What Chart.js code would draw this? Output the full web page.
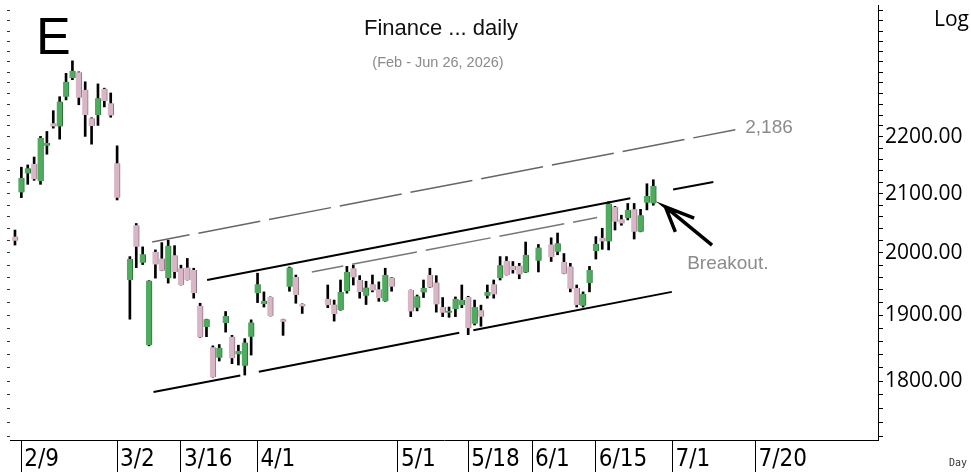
<!DOCTYPE html>
<html>
<head>
<meta charset="utf-8">
<script src="https://cdn.jsdelivr.net/npm/chart.js@4.4.1/dist/chart.umd.min.js"></script>
<style>
  html, body { margin: 0; padding: 0; background: #fff; }
  #wrap { width: 971px; height: 472px; }
</style>
</head>
<body>
<div id="wrap"><canvas id="chart" width="971" height="472"></canvas></div>
<script>
// trading days shown (gaps = days without a bar)
const dates = ['2/6','2/9','2/10','2/11','2/12','2/13','2/16','2/17','2/18','2/19','2/20','2/23','2/24','2/25','2/26','2/27','3/2',
  '3/4','3/5','3/6','3/9','3/10','3/11','3/12','3/13','3/16','3/17','3/18','3/19','3/20','3/23','3/24','3/25','3/26','3/27','3/30','3/31','4/1','4/2','4/3',
  '4/7','4/8','4/9','4/10',
  '4/16','4/17','4/20','4/21','4/22','4/23','4/24','4/27','4/28','4/29','4/30',
  '5/5','5/6','5/7','5/8','5/11','5/12','5/13','5/14','5/15','5/18','5/19','5/20','5/21','5/22','5/25','5/26','5/27','5/28','5/29',
  '6/2',
  '6/4','6/5','6/8','6/9','6/10','6/11','6/12','6/15','6/16','6/17','6/18','6/19','6/22','6/23','6/24','6/25','6/26'];

const opens = [2027,2102,2135,2152,2122,2184,2225,2219,2274,2309,2320,2287,2234,2240,2289,2262,2153,
  1956,2046,1984,1854,2002,1991,1959,1996,1975,1976,1972,1915,1882,1851,1835,1888,1867,1840,1823,1867,1935,1918,1929,
  1894,1945,1961,1918,
  1926,1917,1908,1938,1975,1956,1931,1949,1941,1922,1960,
  1940,1912,1936,1964,1952,1913,1904,1910,1916,1929,1887,1908,1931,1949,1959,1987,1979,1979,1968,
  1987,
  2014,2002,1985,1978,1943,1915,1951,2003,2025,2019,2077,2056,2058,2073,2035,2084,2083];

const highs = [2038,2146,2150,2164,2201,2210,2248,2274,2318,2342,2321,2302,2235,2298,2290,2281,2184,
  1994,2049,2010,1955,2005,2017,2021,2012,1980,1991,1975,1919,1894,1853,1855,1906,1869,1854,1864,1893,1967,1937,1929,
  1894,1977,1964,1918,
  1948,1924,1956,1978,1980,1963,1954,1964,1953,1975,1960,
  1940,1932,1956,1975,1963,1928,1913,1929,1948,1930,1924,1916,1948,1956,1994,1994,1986,1983,2018,
  2014,
  2025,2033,1999,1983,1948,1937,1978,2027,2041,2086,2078,2063,2083,2083,2073,2117,2124];

const lows = [2013,2093,2116,2123,2116,2169,2216,2196,2268,2306,2259,2201,2187,2221,2255,2236,2089,
  1894,1976,1981,1853,1959,1971,1951,1959,1948,1956,1927,1866,1867,1806,1830,1874,1826,1824,1809,1839,1920,1913,1899,
  1869,1938,1919,1903,
  1912,1891,1908,1935,1948,1927,1917,1937,1922,1922,1938,
  1898,1907,1928,1944,1905,1898,1897,1898,1912,1870,1885,1883,1927,1927,1956,1964,1967,1958,1968,
  1969,
  1986,1997,1966,1937,1913,1913,1937,1990,2006,2005,2038,2046,2055,2023,2035,2072,2080];

const closes = [2020,2127,2144,2125,2198,2189,2219,2265,2302,2323,2272,2240,2220,2271,2266,2239,2093,
  1990,2010,1998,1955,1981,1971,2012,1969,1948,1956,1935,1866,1894,1806,1850,1899,1834,1845,1858,1889,1949,1923,1899,
  1890,1976,1932,1914,
  1916,1902,1937,1969,1960,1937,1944,1939,1927,1964,1945,
  1906,1930,1943,1944,1917,1904,1907,1926,1924,1880,1913,1898,1937,1933,1980,1964,1972,1965,1997,
  2009,
  1993,2016,1966,1942,1916,1934,1972,2015,2019,2083,2052,2049,2072,2035,2063,2096,2113];

const tickLabels = ['2/9','3/2','3/16','4/1','5/1','5/18','6/1','6/15','7/1','7/20'];
const priceLabels = [1800, 1900, 2000, 2100, 2200];

// trend lines: [day index, price], null = break in the line
const upperDashed = [[21.5, 2018], [112.85, 2213]];
const upperChannel = [[30.1, 1956], [96.4, 2092], null, [103.1, 2107], [109.4, 2120]];
const midDashed = [[46.5, 1969], [91.2, 2059]];
const lowerChannel = [[21.7, 1784], [35.3, 1808.5], null, [38.2, 1814], [69.6, 1873], null, [71.8, 1877], [102.9, 1937]];
const arrowLines = [[109.2, 2013], [101.9, 2077], [106.4, 2058], null, [101.9, 2077], [103.45, 2035]];

// weekday count since Fri 2/6/2026
const START = Date.UTC(2026, 1, 6);
function dayIndex(md) {
  const [m, d] = md.split('/').map(Number);
  const end = Date.UTC(2026, m - 1, d);
  let n = 0;
  for (let t = START; t < end; t += 86400000) {
    const wd = new Date(t).getUTCDay();
    if (wd !== 0 && wd !== 6) n++;
  }
  return n;
}

const xs = dates.map(dayIndex);
const UP = '#4fac5e', DOWN = '#d9b6c6';
const UP_EDGE = '#2e6e3a', DOWN_EDGE = '#8d7682';

const toPoints = arr => arr.map(p => p ? { x: p[0], y: p[1] } : { x: null, y: null });

function lineSet(points, color, width, dash, dashOffset) {
  return {
    type: 'line',
    data: toPoints(points),
    borderColor: color,
    borderWidth: width,
    borderDash: dash || [],
    borderDashOffset: dashOffset || 0,
    pointRadius: 0,
    spanGaps: false,
    tension: 0,
    order: 1
  };
}

const minorTicks = [];
for (let v = 1720; v <= 2440; v += 20) minorTicks.push(v);

const textPlugin = {
  id: 'texts',
  afterDraw(chart) {
    const { ctx } = chart;
    const { x, y } = chart.scales;
    ctx.save();
    ctx.textBaseline = 'alphabetic';

    ctx.fillStyle = '#111';
    ctx.textAlign = 'center';
    ctx.font = '22px "Liberation Sans", Arial, sans-serif';
    ctx.fillText('Finance ... daily', 441, 35);
    ctx.fillStyle = '#8a8a8a';
    ctx.font = '14.5px "Liberation Sans", Arial, sans-serif';
    ctx.fillText('(Feb - Jun 26, 2026)', 438, 67);

    ctx.textAlign = 'left';
    ctx.fillStyle = '#000';
    ctx.font = '52px "Liberation Sans", Arial, sans-serif';
    ctx.fillText('E', 36, 54);

    ctx.font = '21px "Open Sans", sans-serif';
    ctx.fillText('Log', 934, 26);

    ctx.fillStyle = '#333';
    ctx.font = '10px "DejaVu Sans Mono", monospace';
    ctx.fillText('Day', 949, 466);

    ctx.fillStyle = '#8c8c8c';
    ctx.font = '19px "Liberation Sans", Arial, sans-serif';
    ctx.fillText('2,186', x.getPixelForValue(114.4), y.getPixelForValue(2207));
    ctx.fillText('Breakout.', x.getPixelForValue(105.3), y.getPixelForValue(1974));
    ctx.restore();
  }
};

new Chart(document.getElementById('chart'), {
  data: {
    datasets: [
      {
        type: 'bar',
        data: xs.map((d, i) => ({ x: d, y: [lows[i], highs[i]] })),
        backgroundColor: '#000',
        barThickness: 2,
        grouped: false,
        order: 3
      },
      {
        type: 'bar',
        data: xs.map((d, i) => ({ x: d, y: [opens[i], closes[i]] })),
        backgroundColor: xs.map((d, i) => closes[i] >= opens[i] ? UP : DOWN),
        borderColor: xs.map((d, i) => closes[i] >= opens[i] ? UP_EDGE : DOWN_EDGE),
        borderWidth: { left: 0, top: 0, right: 1, bottom: 0 },
        barThickness: 6,
        grouped: false,
        borderSkipped: false,
        order: 2
      },
      lineSet(upperDashed, '#666', 1.5, [63, 9], 25),
      lineSet(midDashed, '#777', 1.5, [66, 9], 34),
      lineSet(upperChannel, '#000', 2),
      lineSet(lowerChannel, '#000', 2),
      lineSet(arrowLines, '#000', 3.5)
    ]
  },
  options: {
    responsive: false,
    animation: false,
    devicePixelRatio: 1,
    layout: { padding: { top: 5, left: 0, right: 0, bottom: 0 } },
    plugins: { legend: { display: false }, tooltip: { enabled: false } },
    scales: {
      x: {
        type: 'linear',
        position: 'bottom',
        offset: false,
        min: -0.78,
        max: 135.2,
        bounds: 'data',
        afterFit: s => { s.height = 32; },
        afterBuildTicks: s => { s.ticks = tickLabels.map(l => ({ value: dayIndex(l) })); },
        ticks: {
          autoSkip: false,
          maxRotation: 0,
          align: 'start',
          padding: -27,
          labelOffset: 3,
          color: '#000',
          font: { family: '"DejaVu Sans Condensed", "Liberation Sans Narrow", sans-serif', size: 24 },
          callback: (v, i) => tickLabels[i]
        },
        grid: { offset: false, drawOnChartArea: false, tickLength: 32, color: '#000', lineWidth: 1 },
        border: { display: true, color: '#000', width: 1 }
      },
      y: {
        type: 'logarithmic',
        position: 'right',
        min: 1715,
        max: 2452,
        bounds: 'data',
        afterFit: s => { s.width = 93; },
        afterBuildTicks: s => { s.ticks = minorTicks.map(v => ({ value: v })); },
        ticks: {
          autoSkip: false,
          padding: 2,
          color: '#000',
          font: c => ({ family: '"Open Sans", sans-serif', size: c.tick && priceLabels.includes(c.tick.value) ? 21 : 1 }),
          callback: v => priceLabels.includes(v) ? v.toFixed(2) : ''
        },
        grid: { drawOnChartArea: false, tickLength: 5, color: '#000' },
        border: { display: true, color: '#000', width: 1 }
      },
      yLeft: {
        type: 'logarithmic',
        position: 'left',
        min: 1715,
        max: 2452,
        bounds: 'data',
        afterFit: s => { s.width = 10; },
        afterBuildTicks: s => { s.ticks = minorTicks.map(v => ({ value: v })); },
        ticks: { display: false },
        grid: { drawOnChartArea: false, tickLength: 3, color: '#333' },
        border: { display: false }
      }
    }
  },
  plugins: [textPlugin]
});
</script>
</body>
</html>
